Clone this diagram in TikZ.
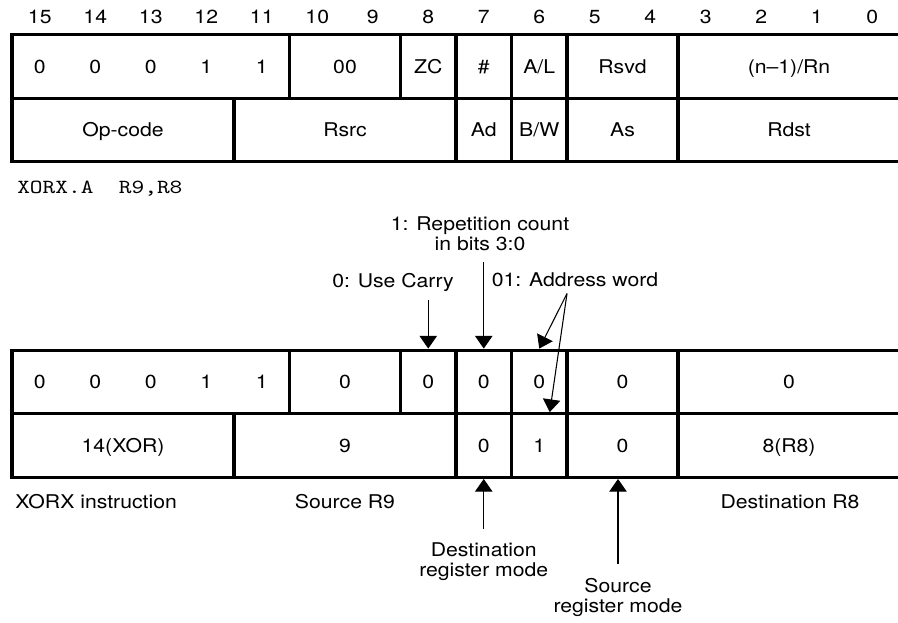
\documentclass[tikz,border=0pt]{standalone}
\usepackage{fontspec}
\setmainfont{TeX Gyre Heros}[FakeStretch=1.12]
\newfontfamily\codefont{lmmono10-regular.otf}[FakeStretch=1.21]
\usetikzlibrary{arrows.meta}
\tikzset{
  every picture/.style={x=0.75pt, y=-0.75pt, font=\fontsize{14.2}{15}\selectfont},
  cell/.style={draw, line width=2.5pt, minimum width=#1*41.625pt, minimum height=47.625pt, inner sep=0pt, text height=10pt, text depth=0pt},
  cell/.default=1,
  bitno/.style={anchor=base, inner sep=0pt},
  digit/.style={inner sep=0pt, text height=10pt, text depth=0pt},
  note/.style={align=center, inner sep=0pt, anchor=base},
  code/.style={font=\codefont\fontsize{15}{18}\selectfont, anchor=base west, inner sep=0pt},
  arrow/.style={-{Triangle[length=9.5pt, width=13pt]}, line width=0.8pt},
}
\begin{document}
\begin{tikzpicture}
  \useasboundingbox (0,0) rectangle (898,622);
  % bit numbers
  \foreach \b in {0,...,15}
    \node[bitno] (n\b) at ({39.75+(15-\b)*55.5},23.5) {\b};
  % format of the instruction
  \node[cell=5] (fix) at (150.75,66.5) {};
  \node[cell=2] (zero) at (345,66.5) {00};
  \node[cell] (zc) at (428.25,66.5) {ZC};
  \node[cell] (rc) at (483.75,66.5) {\#};
  \node[cell] (al) at (539.25,66.5) {A/L};
  \node[cell=2] (rsvd) at (622.5,66.5) {Rsvd};
  \node[cell=4] (rn) at (789,66.5) {(n--1)/Rn};
  \node[cell=4] (opc) at (123,130) {Op-code};
  \node[cell=4] (rsrc) at (345,130) {Rsrc};
  \node[cell] (ad) at (483.75,130) {Ad};
  \node[cell] (bw) at (539.25,130) {B/W};
  \node[cell=2] (as) at (622.5,130) {As};
  \node[cell=4] (rdst) at (789,130) {Rdst};
  \foreach \x/\v [count=\i] in {39.75/0, 95.25/0, 150.75/0, 206.25/1, 261.75/1}
    \node[digit] (d\i) at (\x,66.5) {\v};

  \node[code] (asm) at (17,193.3) {XORX.A\ \ R9,R8};

  % the encoded example
  \node[cell=5] (fix2) at (150.75,382) {};
  \node[cell=2] (zero2) at (345,382) {0};
  \node[cell] (zc2) at (428.25,382) {0};
  \node[cell] (rc2) at (483.75,382) {0};
  \node[cell] (al2) at (539.25,382) {0};
  \node[cell=2] (rsvd2) at (622.5,382) {0};
  \node[cell=4] (rn2) at (789,382) {0};
  \node[cell=4] (opc2) at (123,445.5) {14(XOR)};
  \node[cell=4] (rsrc2) at (345,445.5) {9};
  \node[cell] (ad2) at (483.75,445.5) {0};
  \node[cell] (bw2) at (539.25,445.5) {1};
  \node[cell=2] (as2) at (622.5,445.5) {0};
  \node[cell=4] (rdst2) at (789,445.5) {8(R8)};
  \foreach \x/\v [count=\i] in {39.75/0, 95.25/0, 150.75/0, 206.25/1, 261.75/1}
    \node[digit] (e\i) at (\x,382) {\v};

  % notes
  \node[note] (count) at (480,250.7) {1: Repetition count\\in bits 3:0};
  \node[note] (carry) at (393,287) {0: Use Carry};
  \node[note] (addr) at (575,286) {01: Address word};
  \node[note, anchor=base west] (xinstr) at (15,508.3) {XORX instruction};
  \node[note] (srcr) at (345,508.3) {Source R9};
  \node[note] (dstr) at (790,508.3) {Destination R8};
  \node[note] (dmode) at (483.75,576.7) {Destination\\register mode};
  \node[note] (smode) at (618,612.7) {Source\\register mode};

  \draw[arrow] ([shift={(0,9)}]carry.south -| zc2.north) -- (zc2.north);
  \draw[arrow] ([shift={(0,11)}]count.south -| rc2.north) -- (rc2.north);
  \coordinate (afoot) at ([shift={(-8,7)}]addr.south);
  \draw[arrow] (afoot) -- (al2.north);
  \draw[arrow] (afoot) -- ([shift={(10.5,0)}]bw2.north);
  \draw[arrow] ([shift={(0,-14)}]dmode.north) -- (ad2.south);
  \draw[arrow] ([shift={(0,-14.5)}]smode.north) -- (smode.north |- as2.south);
\end{tikzpicture}
\end{document}
